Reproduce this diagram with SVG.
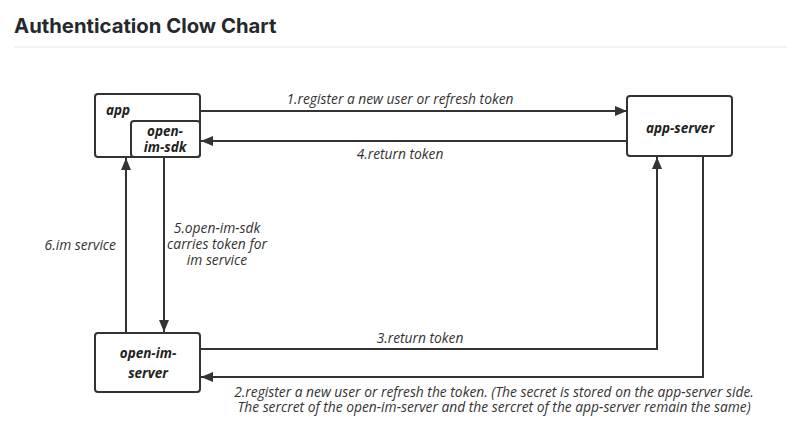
<svg xmlns="http://www.w3.org/2000/svg" width="800" height="439" viewBox="0 0 800 439">
<style>
.box{fill:#fff;stroke:#333;stroke-width:2}
.ln{fill:none;stroke:#333;stroke-width:2}
.nt{font-family:"Open Sans","Noto Sans","DejaVu Sans",sans-serif;font-style:italic;font-weight:bold;font-size:13.5px;fill:#222}
.lb{font-family:"Open Sans","Noto Sans","DejaVu Sans",sans-serif;font-style:italic;font-size:13.8px;fill:#333}
.title{font-family:Inter,"Liberation Sans",Arial,sans-serif;font-weight:bold;font-size:20.3px;fill:#24292e}
</style>
<defs>
<marker id="arr" viewBox="0 0 12 10" refX="12" refY="5" markerWidth="12" markerHeight="10" markerUnits="userSpaceOnUse" orient="auto">
<path d="M0,0 L12,5 L0,10 Z" fill="#333"/>
</marker>
</defs>
<rect width="800" height="439" fill="#fff"/>
<text class="title" x="14" y="33">Authentication Clow Chart</text>
<line x1="14" y1="47" x2="787" y2="47" stroke="#e1e4e8" stroke-width="1"/>

<g id="connectors">
<line class="ln" x1="200" y1="111" x2="627" y2="111" marker-end="url(#arr)"/>
<line class="ln" x1="627" y1="141" x2="201" y2="141" marker-end="url(#arr)"/>
<polyline class="ln" points="200,349 657,349 657,157" marker-end="url(#arr)"/>
<polyline class="ln" points="703,156 703,377 201,377" marker-end="url(#arr)"/>
<line class="ln" x1="164" y1="157" x2="164" y2="332" marker-end="url(#arr)"/>
<line class="ln" x1="126" y1="333" x2="126" y2="158" marker-end="url(#arr)"/>
<text class="lb" x="400" y="104" text-anchor="middle">1.register a new user or refresh token</text>
<text class="lb" x="400" y="159" text-anchor="middle">4.return token</text>
<text class="lb" x="420" y="343" text-anchor="middle">3.return token</text>
<text class="lb" x="494" y="397" text-anchor="middle">2.register a new user or refresh the token. (The secret is stored on the app-server side.</text>
<text class="lb" x="494" y="412" text-anchor="middle">The sercret of the open-im-server and the sercret of the app-server remain the same)</text>
<text class="lb" x="217" y="233" text-anchor="middle">5.open-im-sdk</text>
<text class="lb" x="217" y="249" text-anchor="middle">carries token for</text>
<text class="lb" x="217" y="265" text-anchor="middle">im service</text>
<text class="lb" x="116" y="250" text-anchor="end">6.im service</text>
</g>

<g id="app">
<rect class="box" x="95" y="94" width="105" height="63" rx="3"/>
<text class="nt" x="106" y="115">app</text>
</g>
<g id="open-im-sdk">
<rect class="box" x="131" y="121" width="69" height="36" rx="3"/>
<text class="nt" x="165" y="136" text-anchor="middle">open-</text>
<text class="nt" x="165" y="152" text-anchor="middle">im-sdk</text>
</g>
<g id="app-server">
<rect class="box" x="627" y="96" width="105" height="60" rx="3"/>
<text class="nt" x="680" y="133" text-anchor="middle">app-server</text>
</g>
<g id="open-im-server">
<rect class="box" x="95" y="333" width="105" height="59" rx="3"/>
<text class="nt" x="148" y="358" text-anchor="middle">open-im-</text>
<text class="nt" x="148" y="378" text-anchor="middle">server</text>
</g>
</svg>
